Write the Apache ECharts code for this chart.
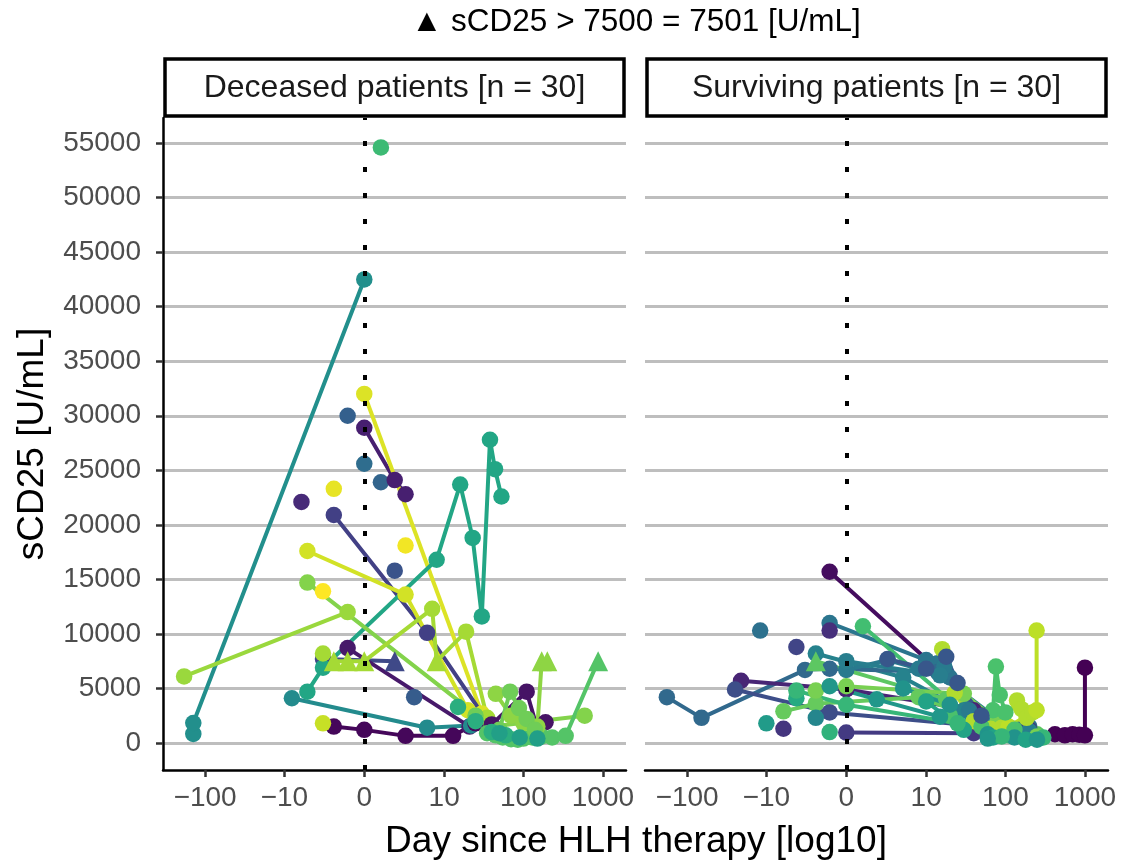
<!DOCTYPE html>
<html>
<head>
<meta charset="utf-8">
<script src="https://cdn.jsdelivr.net/npm/echarts@6/dist/echarts.min.js"></script>
<style>
  html, body { margin: 0; padding: 0; background: #ffffff; }
  #chart { width: 1132px; height: 864px; }
</style>
</head>
<body>
<div id="chart"></div>
<script>
// Long-format sCD25 measurements, one row per sample.
// A value of 7501 stands for a result reported as "> 7500".

// Deceased patients
const deceasedId = [
  41,
  30, 30, 30,
  19,
  22,
  20,
  6, 6, 6,
  8,
  58,
  57, 57,
  59,
  16,
  12, 12, 12,
  14, 14,
  5, 5,
  36, 36, 36, 36, 36, 36, 36, 36, 36,
  29, 29, 29,
  2, 2, 2, 2, 2,
  55,
  18,
  56, 56, 56,
  49, 49, 49,
  51, 51,
  52, 52, 52, 52, 52, 52, 52, 52,
  4, 4, 4, 4,
  44, 44, 44, 44, 44, 44, 44, 44, 44, 44, 44,
  50, 50, 50, 50, 50, 50,
  60,
  47, 47, 47, 47, 47, 47,
  38, 38, 38, 38,
  34, 34, 34
];
const deceasedDay = [
  1,
  -141, -141, 0,
  -1,
  0,
  1,
  0, 2, 3,
  -6,
  -2,
  0, 30,
  3,
  2,
  -2, 6, 35,
  -3, 2,
  -1, 21,
  -5, -3, 8, 16, 23, 30, 38, 44, 53,
  -8, 6, 22,
  -2, 0, 3, 13, 25,
  -3,
  4,
  -5, 3, 20,
  -5, 40, 590,
  -184, -1,
  -3, -2, -1, 0, 7, 8, 19, 35,
  40, 110, 150, 190,
  35, 45, 55, 70, 85, 100, 130, 170, 230, 340, 870,
  45, 70, 100, 150, 170, 200,
  -3,
  25, 50, 68, 88, 110, 140,
  15, 25, 40, 60,
  50, 90, 150
];
const deceasedValue = [
  54600,
  825, 1830, 42500,
  30000,
  25600,
  23900,
  28900, 24100, 22800,
  22100,
  23300,
  32000, 2700,
  18100,
  15800,
  20900, 10100, 2000,
  7700, 7501,
  8700, 1500,
  4700, 6900, 16800, 23700, 18800, 11600, 27800, 25100, 22600,
  4100, 1400, 1600,
  1500, 1200, 650, 650, 1800,
  1800,
  4200,
  17600, 13600, 3000,
  14700, 1500, 2500,
  6100, 12000,
  8200, 7501, 7501, 7501, 12300, 7501, 10200, 2300,
  1700, 4700, 1300, 1900,
  900, 700, 500, 350, 300, 400, 500, 600, 500, 650, 7501,
  4500, 2500, 1800, 1500, 7501, 7501,
  13900,
  2500, 1200, 4700, 3200, 2200, 1200,
  3300, 2000, 1000, 700,
  900, 500, 400
];

// Surviving patients
const survivingId = [
  3, 3, 3, 3,
  24, 24, 24, 24, 24, 24,
  23,
  9,
  42, 42, 42,
  13,
  27, 27, 27, 27,
  21, 21, 21, 21, 21, 21, 21,
  45, 45, 45, 45,
  7, 7, 7, 7,
  15, 15, 15, 15,
  37,
  46, 46, 46, 46, 46,
  33,
  10,
  28,
  39,
  11, 11, 11,
  25, 25, 25, 25, 25, 25,
  26, 26, 26, 26,
  48, 48, 48, 48, 48,
  53, 53, 53, 53, 53, 53, 53, 53, 53,
  54, 54, 54,
  43, 43, 43, 43, 43, 43, 43,
  1, 1, 1, 1, 1, 1,
  31, 31, 31, 31,
  35, 35, 35, 35,
  17, 17, 17, 17, 17,
  40, 40, 40, 40, 40,
  32, 32, 32, 32, 32
];
const survivingDay = [
  -1, 12, 50, 110,
  -1, 10, 14, 20, 45, 150,
  -12,
  -1,
  1, 40, 110,
  -4,
  -2, 5, 30, 90,
  -180, -66, -3, -1, 14, 60, 200,
  -2, 18, 80, 250,
  -21, 0, 40, 200,
  -25, -1, 40, 150,
  -4,
  -6, -2, 8, 45, 130,
  -10,
  -6,
  -2,
  -1,
  0, 40, 120,
  0, 3, 8, 17, 35, 100,
  0, 15, 70, 200,
  -2, 0, 30, 80, 250,
  16, 23, 40, 65, 90, 140, 160, 185, 220,
  110, 247, 247,
  20, 50, 70, 76, 85, 100, 130,
  420, 560, 700, 850, 1000, 1000,
  5, 20, 60, 130,
  10, 30, 70, 180,
  3, 10, 18, 25, 50,
  -4, 0, 25, 90, 300,
  -1, 2, 15, 60, 250
];
const survivingValue = [
  15700, 7200, 2500, 900,
  11000, 7600, 7300, 6000, 2500, 1200,
  10300,
  10300,
  10700, 2000, 700,
  8800,
  8200, 6000, 3000, 1000,
  4200, 2300, 6700, 6800, 6500, 2500, 1500,
  7501, 4000, 1200, 800,
  5700, 4900, 3000, 1200,
  4900, 2800, 1600, 900,
  4100,
  2900, 3600, 4200, 2200, 1200,
  1800,
  1300,
  2300,
  1000,
  950, 900, 1000,
  6700, 7600, 6800, 7000, 3000, 1500,
  7500, 6200, 2500, 1100,
  4800, 5200, 4500, 2000, 600,
  8600, 4600, 2000, 1300, 1400, 3900, 3100, 2300, 2800,
  1500, 3000, 10300,
  2500, 1500, 3000, 7000, 4400, 2800, 1200,
  800, 700, 800, 750, 700, 6900,
  5000, 3500, 800, 500,
  3800, 1200, 500, 300,
  7700, 6800, 7900, 5500, 2500,
  4800, 3500, 1800, 600, 500,
  5200, 4000, 2400, 400, 300
];

const dayTicks = [-100, -10, 0, 10, 100, 1000];
const valueTicks = [0, 5000, 10000, 15000, 20000, 25000, 30000, 35000, 40000, 45000, 50000, 55000];
const panelTitles = ['Deceased patients [n = 30]', 'Surviving patients [n = 30]'];
const censoredValue = 7501;
const patientCount = 60;

// pseudo-log scale (sigma = 1, base 10) for the day axis
const pseudoLog = d => Math.asinh(d / 2) / Math.LN10;
const pseudoExp = t => 2 * Math.sinh(t * Math.LN10);

// viridis colour scale over patient ids
const viridisStops = ['#440154', '#482475', '#414487', '#355f8d', '#2a788e', '#21918c',
                      '#22a884', '#44bf70', '#7ad151', '#bddf26', '#fde725'];
function hexToRgb(h) {
  return [parseInt(h.slice(1, 3), 16), parseInt(h.slice(3, 5), 16), parseInt(h.slice(5, 7), 16)];
}
function viridis(id) {
  const t = (id - 1) / (patientCount - 1);
  const x = t * (viridisStops.length - 1);
  const i = Math.min(viridisStops.length - 2, Math.floor(x));
  const f = x - i;
  const a = hexToRgb(viridisStops[i]);
  const b = hexToRgb(viridisStops[i + 1]);
  const c = a.map((v, k) => Math.round(v + (b[k] - v) * f));
  return 'rgb(' + c.join(',') + ')';
}

// day tick labels use a true minus sign
function dayLabel(t) {
  const d = Math.round(pseudoExp(t));
  return d < 0 ? '\u2212' + Math.abs(d) : String(d);
}

const FONT = '"Liberation Sans", Arial, Helvetica, sans-serif';
const panels = [
  { ids: deceasedId, days: deceasedDay, values: deceasedValue, left: 163 },
  { ids: survivingId, days: survivingDay, values: survivingValue, left: 645 }
];
const PANEL_TOP = 118;
const PANEL_W = 463;
const PANEL_H = 652;
const X_MIN = -2.53, X_MAX = 3.29;
const Y_MIN = -2480, Y_MAX = 57300;

const grids = [], xAxes = [], yAxes = [], series = [], graphics = [];

panels.forEach((p, gi) => {
  grids.push({ left: p.left, top: PANEL_TOP, width: PANEL_W, height: PANEL_H, containLabel: false });

  xAxes.push({
    type: 'value', gridIndex: gi, min: X_MIN, max: X_MAX,
    axisLine: { show: true, onZero: false, lineStyle: { color: '#000', width: 2.5 } },
    axisTick: { show: true, length: 7, customValues: dayTicks.map(pseudoLog),
                lineStyle: { color: '#333', width: 2.5 } },
    axisLabel: { show: true, customValues: dayTicks.map(pseudoLog), margin: 14,
                 color: '#4d4d4d', fontSize: 28, fontFamily: FONT, formatter: dayLabel },
    splitLine: { show: false }
  });

  yAxes.push({
    type: 'value', gridIndex: gi, min: Y_MIN, max: Y_MAX,
    axisLine: { show: gi === 0, onZero: false, lineStyle: { color: '#000', width: 2.5 } },
    axisTick: { show: gi === 0, length: 7, customValues: valueTicks,
                lineStyle: { color: '#333', width: 2.5 } },
    axisLabel: { show: gi === 0, customValues: valueTicks, margin: 22,
                 color: '#4d4d4d', fontSize: 28, fontFamily: FONT, formatter: v => String(v) },
    splitLine: { show: true, lineStyle: { color: '#bebebe', width: 2.8 } }
  });

  // group rows by patient, ordered by day
  const byPatient = new Map();
  p.ids.forEach((id, k) => {
    if (!byPatient.has(id)) byPatient.set(id, []);
    byPatient.get(id).push([p.days[k], p.values[k], k]);
  });

  byPatient.forEach((rows, id) => {
    rows.sort((a, b) => a[0] - b[0] || a[2] - b[2]);
    if (rows.length > 1) {
      series.push({
        type: 'line', xAxisIndex: gi, yAxisIndex: gi,
        data: rows.map(r => [pseudoLog(r[0]), r[1]]),
        showSymbol: false, symbol: 'none', silent: true, animation: false,
        lineStyle: { color: viridis(id), width: 4 }, z: 2
      });
    }
  });

  series.push({
    type: 'scatter', xAxisIndex: gi, yAxisIndex: gi, animation: false, silent: true,
    data: p.ids.map((id, k) => [pseudoLog(p.days[k]), p.values[k], id]),
    symbol: v => v[1] === censoredValue ? 'triangle' : 'circle',
    symbolSize: v => v[1] === censoredValue ? 20 : 16.5,
    itemStyle: { color: params => viridis(params.value[2]), opacity: 1 },
    clip: false, z: 3
  });

  // day 0 reference line
  series.push({
    type: 'line', xAxisIndex: gi, yAxisIndex: gi, data: [], z: 10, silent: true, animation: false,
    markLine: {
      silent: true, symbol: ['none', 'none'], label: { show: false }, animation: false,
      lineStyle: { color: '#000', type: [5, 21], width: 4 },
      data: [{ xAxis: 0 }]
    }
  });

  // facet strip
  graphics.push({
    type: 'rect', shape: { x: p.left + 2, y: 59, width: PANEL_W - 4, height: 57 },
    style: { fill: '#fff', stroke: '#000', lineWidth: 3.5 }
  });
  graphics.push({
    type: 'text', x: p.left + PANEL_W / 2, y: 88,
    style: { text: panelTitles[gi], fill: '#1a1a1a', fontSize: 32, fontFamily: FONT,
             textAlign: 'center', textVerticalAlign: 'middle' }
  });
});

graphics.push({
  type: 'text', x: 636, y: 22,
  style: { text: '\u25B2 sCD25 > 7500 = 7501 [U/mL]', fill: '#000', fontSize: 31.5, fontFamily: FONT,
           textAlign: 'center', textVerticalAlign: 'middle' }
});
graphics.push({
  type: 'text', x: 636, y: 842,
  style: { text: 'Day since HLH therapy [log10]', fill: '#000', fontSize: 37, fontFamily: FONT,
           textAlign: 'center', textVerticalAlign: 'middle' }
});
graphics.push({
  type: 'text', x: 33, y: 444, rotation: Math.PI / 2,
  style: { text: 'sCD25 [U/mL]', fill: '#000', fontSize: 37, fontFamily: FONT,
           textAlign: 'center', textVerticalAlign: 'middle' }
});

const chart = echarts.init(document.getElementById('chart'), null, { renderer: 'canvas' });
chart.setOption({
  animation: false,
  backgroundColor: '#ffffff',
  grid: grids,
  xAxis: xAxes,
  yAxis: yAxes,
  series: series,
  graphic: graphics
});
</script>
</body>
</html>
